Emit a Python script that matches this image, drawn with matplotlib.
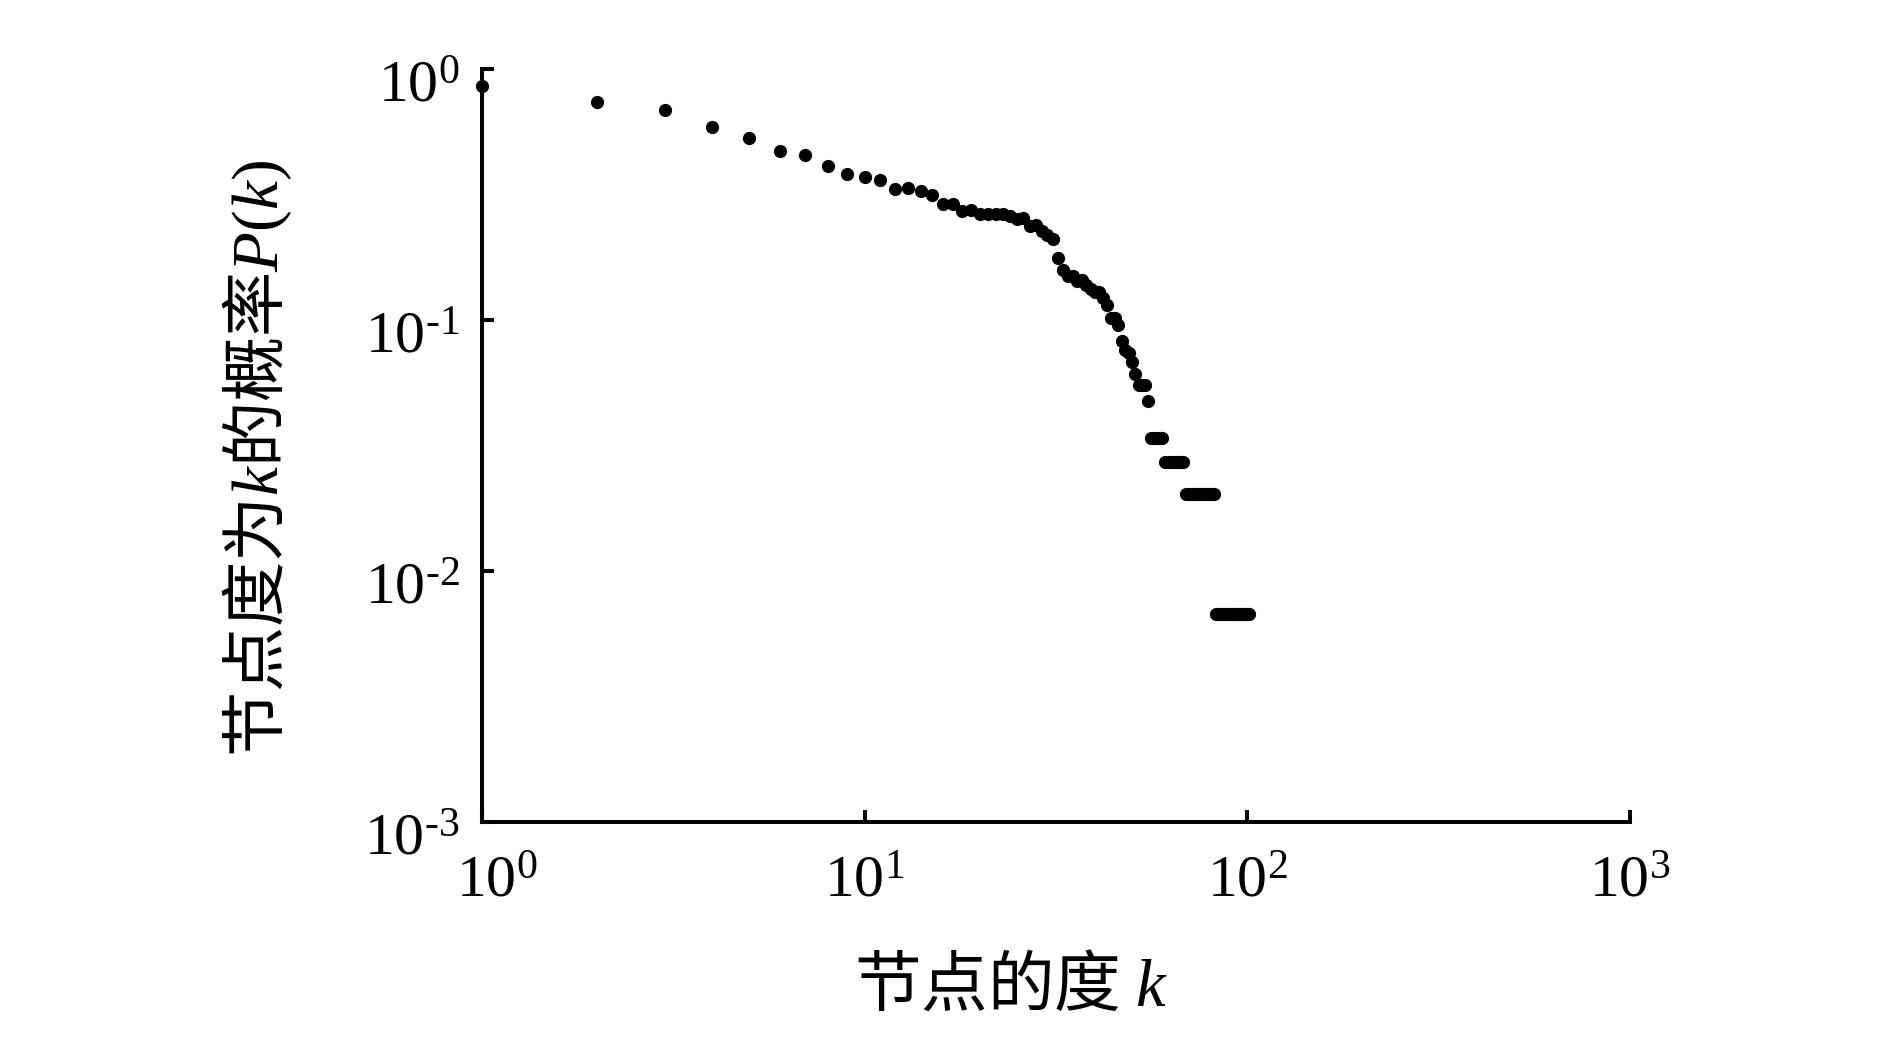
import numpy as np
import matplotlib
matplotlib.use("Agg")
import matplotlib.pyplot as plt
from matplotlib.ticker import FixedLocator, FixedFormatter, NullLocator
from matplotlib.transforms import ScaledTranslation

plt.rcParams["font.family"] = ["Liberation Serif"]
plt.rcParams["mathtext.fontset"] = "custom"
plt.rcParams["mathtext.rm"] = "Liberation Serif"
plt.rcParams["mathtext.it"] = "Liberation Serif:italic"
plt.rcParams["axes.unicode_minus"] = False

# node degree k and probability P(k)
degree = [
    1, 2, 3, 4, 5, 6, 7, 8, 9, 10,
    11, 12, 13, 14, 15, 16, 17, 18, 19, 20,
    21, 22, 23, 24, 25, 26, 27, 28, 29, 30,
    31, 32, 33, 34, 35, 36, 37, 38, 39, 40,
    41, 42, 43, 44, 45, 46, 47, 48, 49, 50,
    51, 52, 53, 54, 55, 56, 57, 58, 59, 60,
    61, 62, 63, 64, 65, 66, 67, 68, 69, 70,
    71, 72, 73, 74, 75, 76, 77, 78, 79, 80,
    81, 82, 83, 84, 85, 86, 87, 88, 89, 90,
    91, 92, 93, 94, 95, 96, 97, 98, 99, 100,
    101,
]
prob = [
    0.852, 0.739, 0.685, 0.585, 0.530, 0.471, 0.453, 0.410, 0.379, 0.371,
    0.360, 0.333, 0.334, 0.326, 0.314, 0.290, 0.290, 0.272, 0.274, 0.263,
    0.263, 0.263, 0.263, 0.258, 0.252, 0.254, 0.237, 0.239, 0.225, 0.218,
    0.210, 0.177, 0.158, 0.149, 0.149, 0.143, 0.144, 0.137, 0.133, 0.129,
    0.129, 0.122, 0.114, 0.102, 0.102, 0.095, 0.082, 0.0757, 0.074, 0.068,
    0.0608, 0.055, 0.055, 0.055, 0.0475, 0.0339, 0.0339, 0.0339, 0.0339, 0.0339,
    0.0272, 0.0272, 0.0272, 0.0272, 0.0272, 0.0272, 0.0272, 0.0272, 0.0203, 0.0203,
    0.0203, 0.0203, 0.0203, 0.0203, 0.0203, 0.0203, 0.0203, 0.0203, 0.0203, 0.0203,
    0.0203, 0.0203, 0.00676, 0.00676, 0.00676, 0.00676, 0.00676, 0.00676, 0.00676, 0.00676,
    0.00676, 0.00676, 0.00676, 0.00676, 0.00676, 0.00676, 0.00676, 0.00676, 0.00676, 0.00676,
    0.00676,
]

x_ticks = [1, 10, 100, 1000]
x_tick_labels = [r"$\mathregular{10^{0}}$", r"$\mathregular{10^{1}}$",
                 r"$\mathregular{10^{2}}$", r"$\mathregular{10^{3}}$"]
y_ticks = [0.001, 0.01, 0.1, 1]
y_tick_labels = [r"$\mathregular{10^{\text{-}3}}$", r"$\mathregular{10^{\text{-}2}}$",
                 r"$\mathregular{10^{\text{-}1}}$", r"$\mathregular{10^{0}}$"]

fig = plt.figure(figsize=(18.9, 10.63), dpi=100)
ax = fig.add_axes([0.255, 0.2267, 0.6074, 0.7087])

ax.plot(degree, prob, "o", color="black", markersize=8.5, clip_on=False)

ax.set_xscale("log")
ax.set_yscale("log")
ax.set_xlim(1, 1000)
ax.set_ylim(0.001, 1)

ax.xaxis.set_major_locator(FixedLocator(x_ticks))
ax.xaxis.set_major_formatter(FixedFormatter(x_tick_labels))
ax.yaxis.set_major_locator(FixedLocator(y_ticks))
ax.yaxis.set_major_formatter(FixedFormatter(y_tick_labels))
ax.xaxis.set_minor_locator(NullLocator())
ax.yaxis.set_minor_locator(NullLocator())

for side in ["top", "right"]:
    ax.spines[side].set_visible(False)
for side in ["left", "bottom"]:
    ax.spines[side].set_linewidth(2.9)

ax.tick_params(axis="both", which="major", direction="in", length=8.6, width=2.9,
               labelsize=43)
ax.tick_params(axis="x", pad=24)
ax.tick_params(axis="y", pad=16)

# the y labels sit a little below their ticks, the first x label a bit to the right
for t in ax.yaxis.get_major_ticks(len(y_ticks)):
    t.label1.set_transform(t.label1.get_transform()
                           + ScaledTranslation(0, -9 / 72, fig.dpi_scale_trans))
first = ax.xaxis.get_major_ticks(len(x_ticks))[0]
first.label1.set_transform(first.label1.get_transform()
                           + ScaledTranslation(11 / 72, 0, fig.dpi_scale_trans))

cjk = ["Noto Sans CJK SC", "DejaVu Sans"]
ax.set_xlabel("节点的度 $k$", fontsize=48, family=cjk)
ax.xaxis.set_label_coords(0.461, -0.219)
ax.xaxis.label.set_va("center")
ax.set_ylabel("节点度为$k$的概率$P(k)$", fontsize=47, family=cjk)
ax.yaxis.set_label_coords(-0.196, 0.483)
ax.yaxis.label.set_va("center")

fig.savefig("out.png", dpi=100)
